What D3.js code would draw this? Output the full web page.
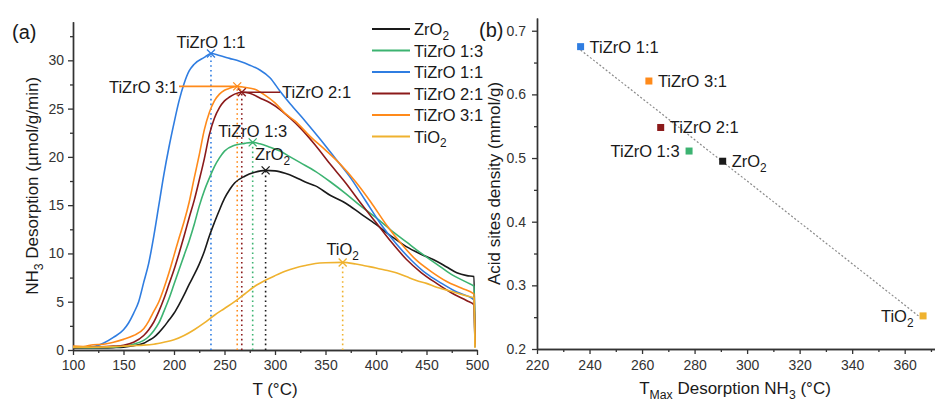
<!DOCTYPE html>
<html>
<head>
<meta charset="utf-8">
<script src="https://cdn.jsdelivr.net/npm/d3@7"></script>
<style>
  body { margin: 0; background: #fff; }
  svg { display: block; font-family: "Liberation Sans", Arial, sans-serif; }
</style>
</head>
<body>
<svg id="chart" width="935" height="402"></svg>
<script>
// ---- NH3-TPD profiles: [T (°C), NH3 desorption (µmol/g/min)] ----
const zro2Curve = [[100,0.2],[120,0.2],[140,0.25],[150,0.3],[160,0.45],[170,0.7],[175,1.0],[180,1.3],[185,1.8],[190,2.4],[195,3.1],[200,3.8],[205,4.7],[210,5.7],[215,6.8],[220,7.8],[225,8.9],[230,10.2],[235,11.8],[240,13.2],[245,14.5],[250,15.7],[255,16.6],[260,17.3],[270,18.0],[280,18.4],[290.7,18.6],[300,18.55],[310,18.3],[320,17.9],[330,17.4],[340,17.0],[355,16.0],[370,15.2],[385,14.1],[400,13.0],[415,11.8],[430,10.7],[445,9.9],[460,9.2],[470,8.6],[480,8.0],[490,7.7],[497,7.6],[498,0.4]];
const tizro13Curve = [[100,0.2],[120,0.25],[140,0.3],[150,0.4],[160,0.6],[170,1.0],[175,1.4],[180,2.0],[185,2.8],[190,4.0],[195,5.3],[200,6.8],[205,8.3],[210,9.8],[215,11.3],[220,13.0],[225,14.9],[230,16.5],[235,17.8],[240,19.0],[245,19.9],[250,20.6],[260,21.2],[270,21.4],[277.9,21.5],[285,21.35],[295,21.0],[305,20.6],[315,20.0],[325,19.4],[340,18.5],[355,17.4],[370,16.2],[385,14.9],[400,13.7],[415,12.4],[430,11.2],[445,10.0],[460,8.9],[475,7.8],[490,7.0],[497,6.6],[498,0.5]];
const tizro11Curve = [[100,0.3],[110,0.3],[120,0.35],[130,0.7],[140,1.3],[150,2.1],[155,2.8],[160,3.8],[165,5.0],[170,7.0],[175,9.0],[180,11.8],[185,15.0],[190,18.2],[195,21.0],[200,23.5],[205,25.8],[210,27.6],[215,28.9],[220,29.6],[230,30.3],[236.6,30.7],[245,30.5],[255,30.2],[265,29.9],[275,29.5],[285,29.0],[295,28.2],[305,26.8],[315,25.5],[330,23.7],[345,21.8],[360,19.8],[375,17.8],[390,15.4],[405,13.0],[420,11.0],[435,9.3],[450,7.9],[465,6.9],[480,6.0],[497,5.2],[498,0.3]];
const tizro21Curve = [[100,0.25],[120,0.3],[140,0.4],[150,0.5],[160,0.8],[170,1.5],[175,2.1],[180,2.9],[185,4.0],[190,5.3],[195,6.8],[200,8.3],[205,10.0],[210,11.8],[215,13.7],[220,15.5],[225,17.6],[230,19.8],[235,22.3],[240,24.0],[245,25.1],[250,25.8],[255,26.2],[260,26.5],[267.1,26.7],[275,26.6],[285,26.1],[295,25.6],[305,24.9],[315,24.0],[325,23.0],[340,21.2],[355,19.2],[370,17.3],[385,15.2],[400,13.2],[415,11.2],[430,9.4],[445,8.0],[460,6.9],[475,5.9],[490,5.1],[497,4.7],[498,0.6]];
const tizro31Curve = [[100,0.4],[110,0.35],[120,0.55],[130,0.6],[140,0.8],[150,1.1],[160,1.5],[170,2.2],[175,3.0],[180,4.0],[185,5.0],[190,6.4],[195,8.0],[200,9.8],[205,11.6],[210,13.3],[215,15.3],[220,17.8],[225,20.2],[230,22.8],[235,24.6],[240,25.8],[245,26.5],[250,26.9],[255,27.1],[262.6,27.3],[270,27.2],[280,27.0],[290,26.4],[300,25.6],[310,24.5],[320,23.7],[335,22.1],[350,20.7],[365,19.2],[380,17.4],[395,15.3],[410,13.0],[425,11.0],[440,9.3],[455,8.1],[470,7.1],[485,6.4],[497,5.8],[498,0.4]];
const tio2Curve = [[100,0.3],[120,0.3],[140,0.35],[150,0.4],[160,0.45],[170,0.5],[180,0.6],[190,0.8],[200,1.05],[210,1.5],[220,2.1],[230,2.8],[240,3.6],[250,4.3],[260,5.0],[270,5.8],[280,6.6],[290,7.2],[300,7.7],[310,8.15],[320,8.5],[330,8.75],[340,8.95],[350,9.03],[367,9.07],[380,8.9],[390,8.7],[400,8.5],[410,8.25],[420,8.0],[430,7.6],[440,7.2],[450,6.9],[460,6.5],[470,6.2],[480,5.9],[490,5.6],[497,5.4],[498,0.2]];

// ---- sample names, peak temperature and acid-site density ----
const sampleNames = ["ZrO2", "TiZrO 1:3", "TiZrO 1:1", "TiZrO 2:1", "TiZrO 3:1", "TiO2"];
const tMax = [290.7, 277.9, 236.6, 267.1, 262.6, 367.0];
const acidDensity = [0.495, 0.511, 0.675, 0.548, 0.621, 0.252];
const curves = [zro2Curve, tizro13Curve, tizro11Curve, tizro21Curve, tizro31Curve, tio2Curve];

// ---- axis ticks ----
const tpdTempTicks = [100, 150, 200, 250, 300, 350, 400, 450, 500];
const tpdRateTicks = [0, 5, 10, 15, 20, 25, 30];
const tmaxTicks = [220, 240, 260, 280, 300, 320, 340, 360];
const densityTicks = [0.2, 0.3, 0.4, 0.5, 0.6, 0.7];

// ---- styling ----
const colors = ["#1a1a1a", "#3cb371", "#2f7de1", "#8b1a1a", "#ff8a1a", "#efb22f"];
const axisColor = "#333";
const tickFont = 14;
const labelFont = 16.5;
const titleFont = 17;

const svg = d3.select("#chart");

// text with subscripts written as _{...}
function richText(sel, text, size) {
  const parts = text.split(/(_\{[^}]*\})/).filter(Boolean);
  const shift = size * 0.3;
  let pending = 0;
  parts.forEach(p => {
    const m = p.match(/^_\{([^}]*)\}$/);
    const span = sel.append("tspan");
    if (m) {
      span.attr("dy", shift).attr("font-size", size * 0.72).text(m[1]);
      pending = -shift;
    } else {
      if (pending) span.attr("dy", pending);
      pending = 0;
      span.text(p);
    }
  });
  return sel;
}
const subName = n => n.replace(/O2$/, "O_{2}");

function styleAxis(g) {
  g.select(".domain").attr("stroke", axisColor).attr("stroke-width", 1.4);
  g.selectAll(".tick line").attr("stroke", axisColor).attr("stroke-width", 1.3);
  g.selectAll(".tick text").attr("fill", "#333").attr("font-size", tickFont)
    .attr("font-family", "\"Liberation Sans\", Arial, sans-serif");
}

// ================= Panel (a): TPD profiles =================
const xA = d3.scaleLinear().domain([100, 500]).range([73, 477]);
const yA = d3.scaleLinear().domain([0, 34]).range([350, 21.7]);

const gA = svg.append("g");

gA.append("g").attr("transform", `translate(0,${yA(0)})`)
  .call(d3.axisBottom(xA).tickValues(d3.range(125, 500, 50)).tickSize(3).tickSizeOuter(0).tickFormat(""))
  .call(styleAxis);
gA.append("g").attr("transform", `translate(0,${yA(0)})`)
  .call(d3.axisBottom(xA).tickValues(tpdTempTicks).tickSize(5).tickSizeOuter(0).tickPadding(5).tickFormat(d3.format("d")))
  .call(styleAxis);
gA.append("g").attr("transform", `translate(${xA(100)},0)`)
  .call(d3.axisLeft(yA).tickValues(d3.range(2.5, 34, 5)).tickSize(3).tickSizeOuter(0).tickFormat(""))
  .call(styleAxis);
gA.append("g").attr("transform", `translate(${xA(100)},0)`)
  .call(d3.axisLeft(yA).tickValues(tpdRateTicks).tickSize(5).tickSizeOuter(0).tickPadding(4).tickFormat(d3.format("d")))
  .call(styleAxis);

// peak drop lines
curves.forEach((c, i) => {
  const pk = d3.greatest(c, d => d[1]);
  gA.append("line")
    .attr("x1", xA(pk[0])).attr("x2", xA(pk[0]))
    .attr("y1", yA(0)).attr("y2", yA(pk[1]))
    .attr("stroke", colors[i]).attr("stroke-width", 1.6)
    .attr("stroke-dasharray", "1.6,3.2");
});

const lineA = d3.line().x(d => xA(d[0])).y(d => yA(d[1])).curve(d3.curveMonotoneX);
curves.forEach((c, i) => {
  gA.append("path").datum(c).attr("d", lineA)
    .attr("fill", "none").attr("stroke", colors[i]).attr("stroke-width", 1.6);
});

// peak markers and labels
const peakLabel = [
  { dx: -10.5, dy: -10, anchor: "start" },   // ZrO2
  { dx: 0, dy: -5.5, anchor: "middle" },     // 1:3
  { dx: 0, dy: -6, anchor: "middle" },       // 1:1
  { lead: 280, dy: 6, anchor: "start" },     // 2:1
  { lead: 179, dy: 6.5, anchor: "end" },     // 3:1
  { dx: 0, dy: -7.5, anchor: "middle" }      // TiO2
];
curves.forEach((c, i) => {
  const pk = d3.greatest(c, d => d[1]);
  const px = xA(pk[0]), py = yA(pk[1]);
  const s = 4;
  gA.append("path")
    .attr("d", `M${px - s},${py - s}L${px + s},${py + s}M${px - s},${py + s}L${px + s},${py - s}`)
    .attr("stroke", colors[i]).attr("stroke-width", 1.3);
  const cfg = peakLabel[i];
  let tx = px + (cfg.dx || 0);
  if (cfg.lead !== undefined) {
    gA.append("line").attr("x1", px).attr("x2", cfg.lead).attr("y1", py).attr("y2", py)
      .attr("stroke", colors[i]).attr("stroke-width", 1.6);
    tx = cfg.anchor === "end" ? cfg.lead - 1 : cfg.lead + 2;
  }
  const t = gA.append("text").attr("x", tx).attr("y", py + cfg.dy)
    .attr("text-anchor", cfg.anchor).attr("font-size", labelFont).attr("fill", "#1a1a1a");
  richText(t, subName(sampleNames[i]), labelFont);
});

// legend
const legend = gA.append("g");
sampleNames.forEach((n, i) => {
  const ly = 29 + i * 21.5;
  legend.append("line").attr("x1", 372).attr("x2", 410).attr("y1", ly).attr("y2", ly)
    .attr("stroke", colors[i]).attr("stroke-width", 2);
  const t = legend.append("text").attr("x", 414).attr("y", ly + 6)
    .attr("font-size", labelFont).attr("fill", "#1a1a1a");
  richText(t, subName(n), labelFont);
});

// axis titles
richText(gA.append("text").attr("x", (xA.range()[0] + xA.range()[1]) / 2).attr("y", 395)
  .attr("text-anchor", "middle").attr("font-size", titleFont).attr("fill", "#1a1a1a"), "T (°C)", titleFont);
richText(gA.append("text")
  .attr("transform", `translate(38,${(yA.range()[0] + yA.range()[1]) / 2}) rotate(-90)`)
  .attr("text-anchor", "middle").attr("font-size", titleFont).attr("fill", "#1a1a1a"),
  "NH_{3} Desorption (µmol/g/min)", titleFont);
gA.append("text").attr("x", 12).attr("y", 39).attr("font-size", 20).attr("fill", "#1a1a1a").text("(a)");

// ================= Panel (b): acid density vs T_max =================
const xB = d3.scaleLinear().domain([220, 372]).range([537, 936.2]);
const yB = d3.scaleLinear().domain([0.2, 0.72]).range([349, 18]);
const gB = svg.append("g");

gB.append("g").attr("transform", `translate(0,${yB(0.2)})`)
  .call(d3.axisBottom(xB).tickValues(d3.range(230, 372, 20)).tickSize(3).tickSizeOuter(0).tickFormat(""))
  .call(styleAxis);
gB.append("g").attr("transform", `translate(0,${yB(0.2)})`)
  .call(d3.axisBottom(xB).tickValues(tmaxTicks).tickSize(5).tickSizeOuter(0).tickPadding(6).tickFormat(d3.format("d")))
  .call(styleAxis);
gB.append("g").attr("transform", `translate(${xB(220)},0)`)
  .call(d3.axisLeft(yB).tickValues(d3.range(0.25, 0.72, 0.1)).tickSize(3).tickSizeOuter(0).tickFormat(""))
  .call(styleAxis);
gB.append("g").attr("transform", `translate(${xB(220)},0)`)
  .call(d3.axisLeft(yB).tickValues(densityTicks).tickSize(5).tickSizeOuter(0).tickPadding(6).tickFormat(d3.format(".1f")))
  .call(styleAxis);

// least-squares trend line
const pts = tMax.map((t, i) => [t, acidDensity[i]]);
const mx = d3.mean(pts, d => d[0]), my = d3.mean(pts, d => d[1]);
const slope = d3.sum(pts, d => (d[0] - mx) * (d[1] - my)) / d3.sum(pts, d => (d[0] - mx) ** 2);
const fit = t => my + slope * (t - mx);
const [tLo, tHi] = d3.extent(tMax);
gB.append("line")
  .attr("x1", xB(tLo)).attr("y1", yB(fit(tLo)))
  .attr("x2", xB(tHi)).attr("y2", yB(fit(tHi)))
  .attr("stroke", "#8a8a8a").attr("stroke-width", 1.2).attr("stroke-dasharray", "2,2");

const sideB = ["right", "left", "right", "right", "right", "left"];
pts.forEach((p, i) => {
  const px = xB(p[0]), py = yB(p[1]);
  gB.append("rect").attr("x", px - 3.5).attr("y", py - 3.5).attr("width", 7).attr("height", 7)
    .attr("fill", colors[i]);
  const right = sideB[i] === "right";
  const t = gB.append("text").attr("x", right ? px + 9 : px - 9.5).attr("y", py + 6)
    .attr("text-anchor", right ? "start" : "end").attr("font-size", labelFont).attr("fill", "#1a1a1a");
  richText(t, subName(sampleNames[i]), labelFont);
});

richText(gB.append("text").attr("x", (537 + 933) / 2).attr("y", 394)
  .attr("text-anchor", "middle").attr("font-size", titleFont).attr("fill", "#1a1a1a"),
  "T_{Max} Desorption NH_{3} (°C)", titleFont);
richText(gB.append("text")
  .attr("transform", `translate(500,${(yB.range()[0] + yB.range()[1]) / 2}) rotate(-90)`)
  .attr("text-anchor", "middle").attr("font-size", titleFont).attr("fill", "#1a1a1a"),
  "Acid sites density (mmol/g)", titleFont);
gB.append("text").attr("x", 479).attr("y", 37).attr("font-size", 20).attr("fill", "#1a1a1a").text("(b)");
</script>
</body>
</html>
